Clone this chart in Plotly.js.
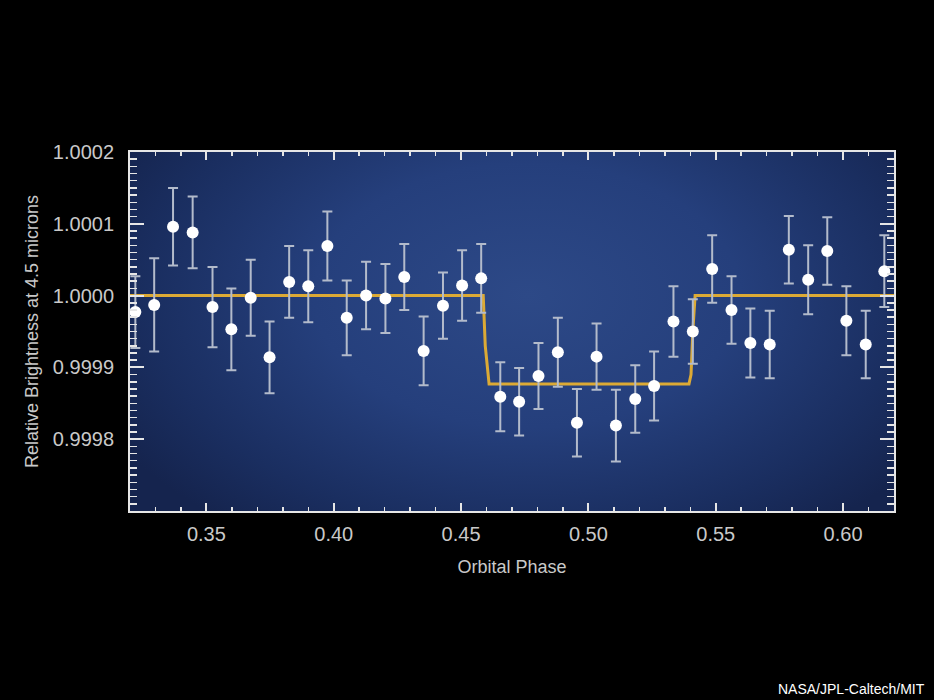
<!DOCTYPE html>
<html>
<head>
<meta charset="utf-8">
<script src="https://cdn.plot.ly/plotly-3.0.1.min.js"></script>
<style>
html,body{margin:0;padding:0;background:#000;}
#chart{width:934px;height:700px;}
</style>
</head>
<body>
<div id="chart"></div>
<script>
// Observed data points (orbital phase, relative brightness, 1-sigma error)
const phase = [0.3221,0.3295,0.3369,0.3446,0.3524,0.3598,0.3674,0.3748,0.3825,0.3900,
               0.3975,0.4051,0.4127,0.4203,0.4277,0.4353,0.4429,0.4504,0.4579,0.4654,
               0.4728,0.4804,0.4880,0.4955,0.5032,0.5108,0.5184,0.5258,0.5334,0.5410,
               0.5486,0.5562,0.5636,0.5712,0.5787,0.5863,0.5938,0.6013,0.6089,0.6162];
const brightness = [0.999977,0.999987,1.000096,1.000088,0.999984,0.999953,0.999997,0.999914,1.000019,1.000013,
                    1.000069,0.999969,1.000000,0.999996,1.000026,0.999923,0.999986,1.000014,1.000024,0.999859,
                    0.999852,0.999888,0.999921,0.999823,0.999915,0.999819,0.999856,0.999874,0.999964,0.999950,
                    1.000037,0.999980,0.999934,0.999932,1.000064,1.000022,1.000062,0.999965,0.999932,1.000034];
const errorBar = [0.000050,0.000065,0.000054,0.000050,0.000056,0.000057,0.000053,0.000050,0.000050,0.000050,
                  0.000048,0.000052,0.000047,0.000048,0.000046,0.000048,0.000046,0.000049,0.000048,0.000048,
                  0.000047,0.000046,0.000048,0.000047,0.000046,0.000050,0.000047,0.000048,0.000049,0.000045,
                  0.000047,0.000047,0.000048,0.000047,0.000047,0.000048,0.000047,0.000048,0.000047,0.000050];

// Eclipse model curve
const modelPhase = [0.32, 0.4587, 0.4595, 0.4610, 0.5395, 0.5403, 0.5410, 0.5419, 0.62];
const modelBrightness = [1.0, 1.0, 0.99993, 0.999877, 0.999877, 0.99989, 0.99995, 1.0, 1.0];

// Axis tick values / labels
const xTickVals = [0.35, 0.40, 0.45, 0.50, 0.55, 0.60];
const xTickText = ['0.35', '0.40', '0.45', '0.50', '0.55', '0.60'];
const yTickVals = [0.9998, 0.9999, 1.0000, 1.0001, 1.0002];
const yTickText = ['0.9998', '0.9999', '1.0000', '1.0001', '1.0002'];
const xRange = [0.32, 0.62];
const yRange = [0.9997, 1.0002];

// Radial gradient background for plot area
function gradientImage(w, h) {
  const c = document.createElement('canvas');
  c.width = w; c.height = h;
  const g = c.getContext('2d');
  g.fillStyle = '#15244e';
  g.fillRect(0, 0, w, h);
  g.save();
  g.translate(w * 0.52, h * 0.40);
  g.scale(1.0, 0.62);
  const rg = g.createRadialGradient(0, 0, 0, 0, 0, w * 0.62);
  rg.addColorStop(0, '#2d4987');
  rg.addColorStop(0.45, '#253f7c');
  rg.addColorStop(0.8, '#1a2e60');
  rg.addColorStop(1, '#15244e');
  g.fillStyle = rg;
  g.fillRect(-w, -h * 2, w * 2, h * 4);
  g.restore();
  return c.toDataURL('image/png');
}

const axisColor = '#e6e6e6';
const labelColor = '#c9c9c9';

const traces = [
  {
    x: modelPhase, y: modelBrightness,
    mode: 'lines', type: 'scatter',
    line: {color: '#dcaa35', width: 3},
    hoverinfo: 'skip', showlegend: false
  },
  {
    x: phase, y: brightness,
    xaxis: 'x2', yaxis: 'y2',
    mode: 'markers', type: 'scatter',
    marker: {color: '#ffffff', size: 12, line: {width: 0}},
    error_y: {type: 'data', array: errorBar, visible: true, color: '#b3bbcb', thickness: 2, width: 5},
    showlegend: false
  }
];

const layout = {
  width: 934, height: 700,
  paper_bgcolor: '#000000',
  plot_bgcolor: '#1d3166',
  margin: {l: 130, r: 40, t: 152, b: 189, pad: 0},
  font: {family: 'Liberation Sans, Arial, sans-serif', color: labelColor},
  images: [{
    source: gradientImage(764, 359),
    xref: 'paper', yref: 'paper', x: 0, y: 1, sizex: 1, sizey: 1,
    sizing: 'stretch', layer: 'below', xanchor: 'left', yanchor: 'top'
  }],
  xaxis: {
    range: xRange, tickmode: 'array', tickvals: xTickVals, ticktext: xTickText,
    ticks: 'inside', ticklen: 8, tickwidth: 2, tickcolor: axisColor,
    mirror: 'allticks', showline: true, linecolor: axisColor, linewidth: 2,
    showgrid: false, zeroline: false,
    tickfont: {size: 20, color: labelColor},
    ticklabelstandoff: 4,
    title: {text: 'Orbital Phase', font: {size: 18, color: labelColor}, standoff: 16}
  },
  xaxis2: {
    range: xRange, overlaying: 'x', anchor: 'y2', side: 'bottom',
    dtick: 0.01, tick0: 0.30,
    ticks: 'inside', ticklen: 4, tickwidth: 1.5, tickcolor: axisColor,
    mirror: 'allticks', showline: false, showticklabels: false,
    showgrid: false, zeroline: false
  },
  yaxis: {
    range: yRange, tickmode: 'array', tickvals: yTickVals, ticktext: yTickText,
    ticks: 'inside', ticklen: 14, tickwidth: 2, tickcolor: axisColor,
    mirror: 'allticks', showline: true, linecolor: axisColor, linewidth: 2,
    showgrid: false, zeroline: false,
    tickfont: {size: 20, color: labelColor},
    ticklabelstandoff: 10,
    title: {text: 'Relative Brightness at 4.5 microns', font: {size: 18, color: labelColor}, standoff: 10}
  },
  yaxis2: {
    range: yRange, overlaying: 'y', anchor: 'x2', side: 'left',
    dtick: 0.00001, tick0: 0.9997,
    ticks: 'inside', ticklen: 7, tickwidth: 1.5, tickcolor: axisColor,
    mirror: 'allticks', showline: false, showticklabels: false,
    showgrid: false, zeroline: false
  },
  annotations: [{
    text: 'NASA/JPL-Caltech/MIT',
    xref: 'paper', yref: 'paper', x: 1.043, y: -0.496,
    xanchor: 'right', yanchor: 'middle', showarrow: false,
    font: {size: 14, color: '#ffffff', family: 'Liberation Sans, Arial, sans-serif'}
  }]
};

Plotly.newPlot('chart', traces, layout, {displayModeBar: false, staticPlot: true});
</script>
</body>
</html>
